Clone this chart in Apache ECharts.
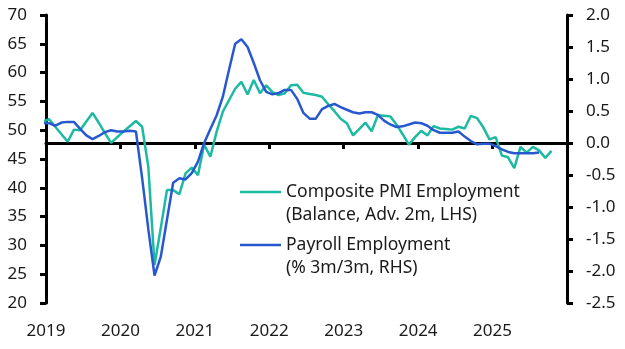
<!DOCTYPE html>
<html>
<head>
<meta charset="utf-8">
<script src="https://cdn.jsdelivr.net/npm/echarts@6/dist/echarts.min.js"></script>
<style>
  html, body { margin: 0; padding: 0; background: #ffffff; }
  #chart { width: 625px; height: 349px; }
</style>
</head>
<body>
<div id="chart"></div>
<script>
// Monthly observations (PMI is advanced two months)
const months = [
  '2018-12',
  '2019-01','2019-02','2019-03','2019-04','2019-05','2019-06','2019-07','2019-08','2019-09','2019-10','2019-11','2019-12',
  '2020-01','2020-02','2020-03','2020-04','2020-05','2020-06','2020-07','2020-08','2020-09','2020-10','2020-11','2020-12',
  '2021-01','2021-02','2021-03','2021-04','2021-05','2021-06','2021-07','2021-08','2021-09','2021-10','2021-11','2021-12',
  '2022-01','2022-02','2022-03','2022-04','2022-05','2022-06','2022-07','2022-08','2022-09','2022-10','2022-11','2022-12',
  '2023-01','2023-02','2023-03','2023-04','2023-05','2023-06','2023-07','2023-08','2023-09','2023-10','2023-11','2023-12',
  '2024-01','2024-02','2024-03','2024-04','2024-05','2024-06','2024-07','2024-08','2024-09','2024-10','2024-11','2024-12',
  '2025-01','2025-02','2025-03','2025-04','2025-05','2025-06','2025-07','2025-08','2025-09','2025-10'
];

// Composite PMI Employment (balance, advanced 2m) - left axis
const pmiEmployment = [
  51.5,
  51.9, 50.6, 49.3, 48.0, 50.1, 50.0, 51.5, 53.0, 51.3, 49.5, 47.8, 48.8,
  49.8, 50.7, 51.6, 50.6, 43.6, 26.6, 33.0, 39.6, 39.6, 38.9, 42.5, 43.5,
  42.2, 47.5, 45.4, 49.7, 53.2, 55.2, 57.2, 58.4, 56.2, 58.7, 56.4, 57.8,
  56.6, 56.1, 56.4, 57.8, 57.9, 56.5, 56.3, 56.1, 55.8, 54.5, 53.3, 52.0,
  51.2, 49.1, 50.2, 51.3, 49.8, 52.6, 52.5, 52.4, 51.0, 49.3, 47.5, 48.8,
  49.9, 49.1, 50.7, 50.3, 50.2, 50.1, 50.6, 50.3, 52.5, 52.1, 50.5, 48.4,
  48.8, 45.6, 45.3, 43.4, 47.1, 46.1, 47.1, 46.5, 45.2, 46.4
];

// Payroll Employment (% 3m/3m) - right axis
const payrollEmployment = [
  0.31,
  0.31, 0.27, 0.32, 0.33, 0.33, 0.22, 0.12, 0.06, 0.11, 0.17, 0.20, 0.18,
  0.18, 0.19, 0.18, -0.55, -1.35, -2.07, -1.78, -1.20, -0.62, -0.55, -0.57, -0.47,
  -0.29, 0.00, 0.22, 0.43, 0.72, 1.14, 1.55, 1.62, 1.50, 1.25, 0.98, 0.80,
  0.76, 0.78, 0.83, 0.83, 0.69, 0.47, 0.38, 0.38, 0.53, 0.58, 0.61, 0.56,
  0.52, 0.48, 0.46, 0.48, 0.48, 0.44, 0.35, 0.29, 0.25, 0.26, 0.29, 0.32,
  0.31, 0.27, 0.20, 0.16, 0.16, 0.16, 0.18, 0.10, 0.03, -0.02, -0.01, -0.01,
  -0.05, -0.10, -0.14, -0.16, -0.16, -0.16, -0.16, -0.15
];

const yearLabels = ['2019', '2020', '2021', '2022', '2023', '2024', '2025'];

const seriesNames = ['Composite PMI Employment', 'Payroll Employment'];
const seriesNotes = ['(Balance, Adv. 2m, LHS)', '(% 3m/3m, RHS)'];

// months since Jan 2019, plotted at mid-month
function monthPos(s) {
  const [y, m] = s.split('-').map(Number);
  return (y - 2019) * 12 + (m - 1) + 0.5;
}
function pairs(values) {
  return values.map((v, i) => [monthPos(months[i]), v]);
}

const FONT = 'Noto Sans';
const INK = '#1a1a1a';
const TEAL = '#1dbaa2';
const BLUE = '#2858d0';

const axisBase = {
  axisLine: { show: true, lineStyle: { color: '#000', width: 3 } },
  axisTick: { show: true, length: 6, lineStyle: { color: '#000', width: 3 } },
  splitLine: { show: false },
  axisLabel: { color: INK, fontFamily: FONT, fontSize: 17 }
};

const chart = echarts.init(document.getElementById('chart'), null, { renderer: 'canvas' });

chart.setOption({
  animation: false,
  backgroundColor: '#ffffff',
  grid: { left: 46, right: 58, top: 15, bottom: 46, containLabel: false },
  xAxis: {
    type: 'value',
    min: 0,
    max: 84,
    interval: 12,
    ...axisBase,
    axisLabel: {
      ...axisBase.axisLabel,
      margin: 20,
      formatter: v => yearLabels[v / 12] || ''
    }
  },
  yAxis: [
    {
      type: 'value', position: 'left', min: 20, max: 70, interval: 5,
      ...axisBase,
      axisLabel: { ...axisBase.axisLabel, margin: 19 }
    },
    {
      type: 'value', position: 'right', min: -2.5, max: 2.0, interval: 0.5,
      ...axisBase,
      axisLabel: { ...axisBase.axisLabel, margin: 19, formatter: v => v.toFixed(1) }
    }
  ],
  legend: {
    orient: 'vertical',
    left: 240,
    top: 182,
    padding: 0,
    icon: 'rect',
    itemWidth: 41,
    itemHeight: 2.5,
    itemGap: 33,
    textStyle: { color: INK, fontFamily: FONT, fontSize: 17.5, lineHeight: 20 },
    data: seriesNames
  },
  graphic: [
    { type: 'text', left: 286, top: 206, style: { text: seriesNotes[0], fill: INK, font: '17.5px "' + FONT + '"' } },
    { type: 'text', left: 286, top: 259, style: { text: seriesNotes[1], fill: INK, font: '17.5px "' + FONT + '"' } }
  ],
  series: [
    {
      name: seriesNames[0],
      type: 'line',
      yAxisIndex: 0,
      symbol: 'none',
      clip: true,
      lineStyle: { color: TEAL, width: 2.5 },
      itemStyle: { color: TEAL },
      data: pairs(pmiEmployment),
      z: 3
    },
    {
      name: seriesNames[1],
      type: 'line',
      yAxisIndex: 1,
      symbol: 'none',
      clip: true,
      lineStyle: { color: BLUE, width: 2.5 },
      itemStyle: { color: BLUE },
      data: pairs(payrollEmployment),
      z: 4,
      markLine: {
        silent: true,
        symbol: 'none',
        label: { show: false },
        lineStyle: { color: '#000', width: 3, type: 'solid' },
        data: [{ yAxis: 0 }],
        z: 2
      }
    }
  ]
});
</script>
</body>
</html>
